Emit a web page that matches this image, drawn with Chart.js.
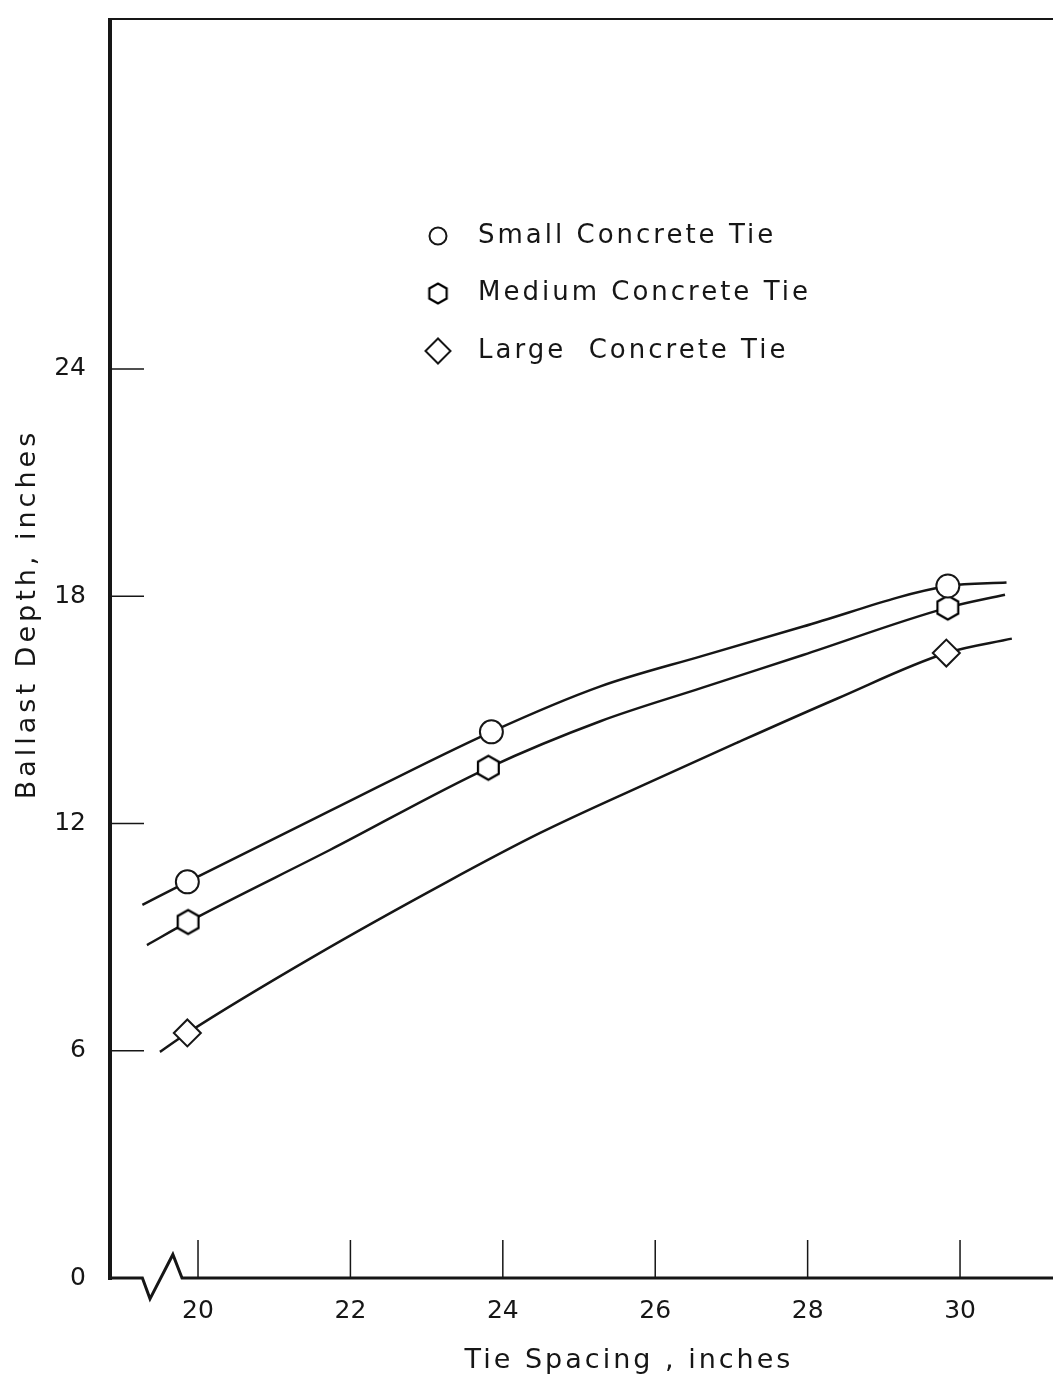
<!DOCTYPE html>
<html>
<head>
<meta charset="utf-8">
<title>Ballast Depth vs Tie Spacing</title>
<script src="https://cdn.jsdelivr.net/npm/chart.js@4.4.1/dist/chart.umd.min.js"></script>
<style>
  html, body { margin: 0; padding: 0; background: #fff; overflow: hidden; }
</style>
</head>
<body>
<canvas id="chart" width="1053" height="1384"></canvas>
<script>
// axis ticks
const xTicks = [20, 22, 24, 26, 28, 30];
const yTicks = [0, 6, 12, 18, 24];

// plotted test points (tie spacing in., ballast depth in.)
const smallX = [19.86, 23.85, 29.84];
const smallY = [10.46, 14.42, 18.27];
const mediumX = [19.87, 23.81, 29.84];
const mediumY = [9.40, 13.47, 17.70];
const largeX = [19.86, 29.82];
const largeY = [6.47, 16.50];

// hand-drawn curves
const smallCurveX = [19.27, 19.86, 21.73, 23.85, 25.28, 26.61, 27.94, 29.84, 30.61];
const smallCurveY = [9.85, 10.46, 12.33, 14.42, 15.62, 16.42, 17.20, 18.27, 18.36];
const mediumCurveX = [19.33, 19.87, 21.73, 23.81, 25.28, 26.61, 27.94, 29.84, 30.59];
const mediumCurveY = [8.79, 9.40, 11.30, 13.47, 14.70, 15.58, 16.45, 17.70, 18.04];
const largeCurveX = [19.50, 19.86, 21.51, 23.27, 24.49, 25.85, 27.06, 28.39, 29.82, 30.68];
const largeCurveY = [5.97, 6.47, 8.48, 10.46, 11.75, 13.02, 14.12, 15.30, 16.50, 16.88];

// axis break symbol on the x axis (data units)
const breakX = [19.27, 19.37, 19.67, 19.79];
const breakY = [0, -0.55, 0.62, 0];

const ink = '#161616';
const font = '"DejaVu Sans", sans-serif';

function pts(xs, ys) {
  return xs.map((v, i) => ({ x: v, y: ys[i] }));
}

// hexagon marker for the medium tie
function hexagon(r, lw) {
  const s = Math.ceil(r * 2 + lw * 2 + 2);
  const c = document.createElement('canvas');
  c.width = s; c.height = s;
  const g = c.getContext('2d');
  g.strokeStyle = '#000'; g.fillStyle = '#fff'; g.lineWidth = lw;
  g.beginPath();
  for (let i = 0; i < 6; i++) {
    const a = Math.PI / 2 + i * Math.PI / 3;
    const px = s / 2 + r * Math.cos(a), py = s / 2 + r * Math.sin(a);
    if (i) g.lineTo(px, py); else g.moveTo(px, py);
  }
  g.closePath(); g.fill(); g.stroke();
  return c;
}

const hexBig = hexagon(12, 2.2);
const hexSmall = hexagon(10, 2.2);

function curveSet(label, xs, ys) {
  return {
    label: label, data: pts(xs, ys), borderColor: ink, borderWidth: 2.5,
    pointRadius: 0, cubicInterpolationMode: 'monotone', fill: false, order: 1
  };
}
function markerSet(label, xs, ys, style, r) {
  return {
    label: label, data: pts(xs, ys), showLine: false, pointStyle: style,
    pointRadius: r, pointBorderWidth: 2, pointBorderColor: ink,
    pointBackgroundColor: '#fff', order: 0
  };
}

// axes, tick marks, break, titles and legend as on the original sheet
const paperPlugin = {
  id: 'paper',
  afterDraw(chart) {
    const { ctx, chartArea: a, scales: { x, y } } = chart;
    const y0 = y.getPixelForValue(0);
    ctx.save();
    ctx.strokeStyle = ink;
    ctx.lineCap = 'butt';

    ctx.lineWidth = 2;
    ctx.beginPath(); ctx.moveTo(a.left - 2, a.top); ctx.lineTo(a.right, a.top); ctx.stroke();

    ctx.lineWidth = 4;
    ctx.beginPath(); ctx.moveTo(a.left, a.top - 1); ctx.lineTo(a.left, y0 + 2); ctx.stroke();

    ctx.lineWidth = 3;
    ctx.beginPath(); ctx.moveTo(a.left, y0);
    breakX.forEach((v, i) => ctx.lineTo(x.getPixelForValue(v), y.getPixelForValue(breakY[i])));
    ctx.lineTo(a.right, y0);
    ctx.stroke();

    ctx.lineWidth = 1.5;
    ctx.beginPath();
    x.ticks.forEach(t => {
      const px = x.getPixelForValue(t.value);
      ctx.moveTo(px, y0); ctx.lineTo(px, y0 - 38);
    });
    y.ticks.forEach(t => {
      if (t.value === 0) return;
      const py = y.getPixelForValue(t.value);
      ctx.moveTo(a.left, py); ctx.lineTo(a.left + 34, py);
    });
    ctx.stroke();

    // axis titles
    ctx.fillStyle = ink;
    ctx.font = '27px ' + font;
    ctx.textAlign = 'center';
    ctx.textBaseline = 'middle';
    ctx.letterSpacing = '3px';
    ctx.fillText('Tie Spacing , inches', 629, 1361);
    ctx.letterSpacing = '4px';
    ctx.save();
    ctx.translate(28, 614);
    ctx.rotate(-Math.PI / 2);
    ctx.fillText('Ballast Depth, inches', 0, 0);
    ctx.restore();

    // legend
    const items = chart.data.datasets.filter(d => d.showLine === false);
    const legendStyle = { circle: ['circle', 8.5], hex: [hexSmall, 10], diamond: ['rectRot', 12.5] };
    ctx.font = '26px ' + font;
    ctx.letterSpacing = '3px';
    ctx.textAlign = 'left';
    items.forEach((d, i) => {
      const cy = 236 + i * 57.5;
      const st = d.pointStyle === 'circle' ? legendStyle.circle
        : d.pointStyle === 'rectRot' ? legendStyle.diamond : legendStyle.hex;
      ctx.fillStyle = '#fff';
      ctx.lineWidth = 2;
      Chart.helpers.drawPoint(ctx, { pointStyle: st[0], radius: st[1], borderWidth: 2, rotation: 0 }, 438, cy);
      ctx.fillStyle = ink;
      ctx.fillText(d.label, 478, cy);
    });
    ctx.restore();
  }
};

new Chart(document.getElementById('chart'), {
  type: 'line',
  data: {
    datasets: [
      markerSet('Small Concrete Tie', smallX, smallY, 'circle', 11.5),
      markerSet('Medium Concrete Tie', mediumX, mediumY, hexBig, 12),
      markerSet('Large  Concrete Tie', largeX, largeY, 'rectRot', 13.5),
      curveSet('small curve', smallCurveX, smallCurveY),
      curveSet('medium curve', mediumCurveX, mediumCurveY),
      curveSet('large curve', largeCurveX, largeCurveY)
    ]
  },
  options: {
    responsive: false,
    animation: false,
    devicePixelRatio: 1,
    layout: { autoPadding: false, padding: { top: 19, right: 0, left: 0, bottom: 0 } },
    plugins: { legend: { display: false }, tooltip: { enabled: false } },
    scales: {
      x: {
        type: 'linear', min: 18.845, max: 31.22,
        grid: { display: false, drawTicks: false },
        border: { display: false },
        afterBuildTicks: s => { s.ticks = xTicks.map(v => ({ value: v })); },
        afterFit: s => { s.height = 106; s.paddingLeft = 0; s.paddingRight = 0; },
        ticks: { color: ink, padding: 18, font: { family: font, size: 25 }, maxRotation: 0 }
      },
      y: {
        type: 'linear', min: 0, max: 33.24,
        grid: { display: false, drawTicks: false },
        border: { display: false },
        afterBuildTicks: s => { s.ticks = yTicks.map(v => ({ value: v })); },
        afterFit: s => { s.width = 110; s.paddingTop = 0; s.paddingBottom = 0; },
        ticks: { color: ink, padding: 24, font: { family: font, size: 25 } }
      }
    }
  },
  plugins: [paperPlugin]
});
</script>
</body>
</html>
